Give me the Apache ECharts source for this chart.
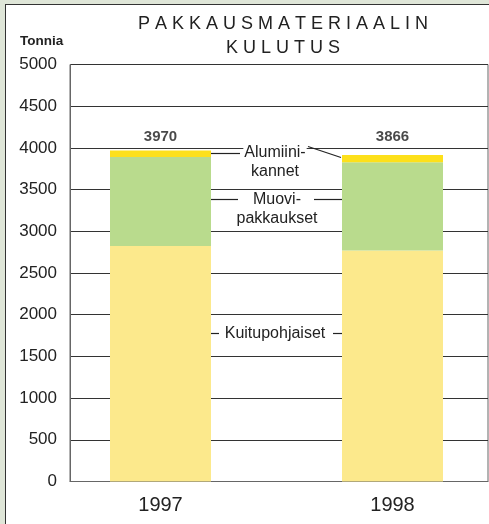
<!DOCTYPE html>
<html>
<head>
<meta charset="utf-8">
<script src="https://cdn.jsdelivr.net/npm/echarts@6/dist/echarts.min.js"></script>
<style>
html,body{margin:0;padding:0;background:#dfe6d8;}
#frame{position:absolute;left:5px;top:4px;width:484px;height:520px;background:#fff;border-left:1.5px solid #333;border-top:1.5px solid #333;}
#chart{position:absolute;left:0;top:0;width:489px;height:524px;}
</style>
</head>
<body>
<div id="frame"></div>
<div id="chart"></div>
<script>
// Data
const categories = ['1997', '1998'];
const kuitupohjaiset = [2825, 2770];
const muovipakkaukset = [1065, 1057];
const alumiinikannet = [80, 87];
const totals = [3970, 3866];
const yTicks = [0, 500, 1000, 1500, 2000, 2500, 3000, 3500, 4000, 4500, 5000];

const FONT = '"Liberation Sans", Arial, sans-serif';
const LABEL_Y = 4130;
const Y_MIN = yTicks[0], Y_MAX = yTicks[yTicks.length - 1];

const chart = echarts.init(document.getElementById('chart'), null, {renderer: 'canvas'});

const barCommon = {type: 'bar', stack: 'total', barWidth: 101, silent: true, xAxisIndex: 0, yAxisIndex: 0};

chart.setOption({
  backgroundColor: 'transparent',
  animation: false,
  textStyle: {fontFamily: FONT},
  title: {
    text: 'P A K K A U S M A T E R I A A L I N\nK U L U T U S',
    left: 278, top: 7, textAlign: 'center',
    textStyle: {fontFamily: FONT, fontSize: 18, fontWeight: 'normal', color: '#222', lineHeight: 24}
  },
  grid: [
    // grid for the bars (category bands)
    {left: 44.5, top: 64.5, width: 464, bottom: 42.5, show: false, outerBoundsMode: 'none', containLabel: false},
    // grid for the visible frame, axis and gridlines
    {left: 70, top: 64.5, right: 1, bottom: 42.5, show: true, borderColor: '#666', borderWidth: 1, backgroundColor: 'transparent', outerBoundsMode: 'none'}
  ],
  xAxis: [
    {
      gridIndex: 0, type: 'category', data: categories,
      axisLine: {show: false}, axisTick: {show: false}, splitLine: {show: false},
      axisLabel: {fontSize: 20, color: '#222', margin: 14, fontFamily: FONT}
    },
    {
      gridIndex: 1, type: 'value', min: 0, max: 1,
      splitLine: {show: false}, axisTick: {show: false}, axisLabel: {show: false},
      axisLine: {show: true, lineStyle: {color: '#666', width: 1}}
    }
  ],
  yAxis: [
    {
      gridIndex: 0, type: 'value', min: Y_MIN, max: Y_MAX, interval: 500,
      axisLine: {show: false}, axisTick: {show: false}, axisLabel: {show: false}, splitLine: {show: false}
    },
    {
      gridIndex: 1, type: 'value', min: Y_MIN, max: Y_MAX, interval: 500,
      axisLine: {show: true, onZero: false, lineStyle: {color: '#666', width: 1}},
      axisTick: {show: false},
      splitLine: {show: true, lineStyle: {color: '#333', width: 1}},
      axisLabel: {fontSize: 17, color: '#222', margin: 13, fontFamily: FONT, formatter: v => String(v)}
    }
  ],
  series: [
    Object.assign({}, barCommon, {name: 'Kuitupohjaiset', itemStyle: {color: '#fce98c'}, data: kuitupohjaiset}),
    Object.assign({}, barCommon, {name: 'Muovipakkaukset', itemStyle: {color: '#b9db8d'}, data: muovipakkaukset}),
    Object.assign({}, barCommon, {name: 'Alumiinikannet', itemStyle: {color: '#fde01b'}, data: alumiinikannet}),
    {
      type: 'scatter', symbolSize: 0, silent: true, z: 10, xAxisIndex: 0, yAxisIndex: 0,
      data: totals.map(() => LABEL_Y),
      label: {show: true, position: 'inside', formatter: p => String(totals[p.dataIndex]),
        fontSize: 15, fontWeight: 'bold', color: '#1a1a1a', fontFamily: FONT}
    }
  ],
  graphic: [
    {type: 'text', left: 20, top: 34, z: 100, style: {text: 'Tonnia', font: 'bold 13.5px ' + FONT, fill: '#222'}},
    // Alumiini-kannet leaders
    {type: 'line', z: 100, shape: {x1: 211, y1: 153.5, x2: 240, y2: 153.5}, style: {stroke: '#222', lineWidth: 1.2}},
    {type: 'line', z: 100, shape: {x1: 308, y1: 146.5, x2: 341, y2: 157.5}, style: {stroke: '#222', lineWidth: 1.2}},
    {type: 'text', z: 60, x: 275, y: 162, style: {text: 'Alumiini-\nkannet', font: '16px ' + FONT, fill: '#222', align: 'center', verticalAlign: 'middle', lineHeight: 18.5, backgroundColor: '#fff', padding: [0, 1, 0, 1]}},
    // Muovi-pakkaukset leaders
    {type: 'line', z: 100, shape: {x1: 211, y1: 199.5, x2: 238, y2: 199.5}, style: {stroke: '#222', lineWidth: 1.2}},
    {type: 'line', z: 100, shape: {x1: 314, y1: 199.5, x2: 342, y2: 199.5}, style: {stroke: '#222', lineWidth: 1.2}},
    {type: 'text', z: 60, x: 277, y: 209, style: {text: 'Muovi-\npakkaukset', font: '16px ' + FONT, fill: '#222', align: 'center', verticalAlign: 'middle', lineHeight: 18.5, backgroundColor: '#fff', padding: [0, 2, 0, 2]}},
    // Kuitupohjaiset leaders
    {type: 'line', z: 100, shape: {x1: 211, y1: 333.5, x2: 219, y2: 333.5}, style: {stroke: '#222', lineWidth: 1.2}},
    {type: 'line', z: 100, shape: {x1: 333, y1: 333.5, x2: 342, y2: 333.5}, style: {stroke: '#222', lineWidth: 1.2}},
    {type: 'text', z: 60, x: 275, y: 333.5, style: {text: 'Kuitupohjaiset', font: '16px ' + FONT, fill: '#222', align: 'center', verticalAlign: 'middle', backgroundColor: '#fff', padding: [2, 2, 2, 2]}}
  ]
});
</script>
</body>
</html>
